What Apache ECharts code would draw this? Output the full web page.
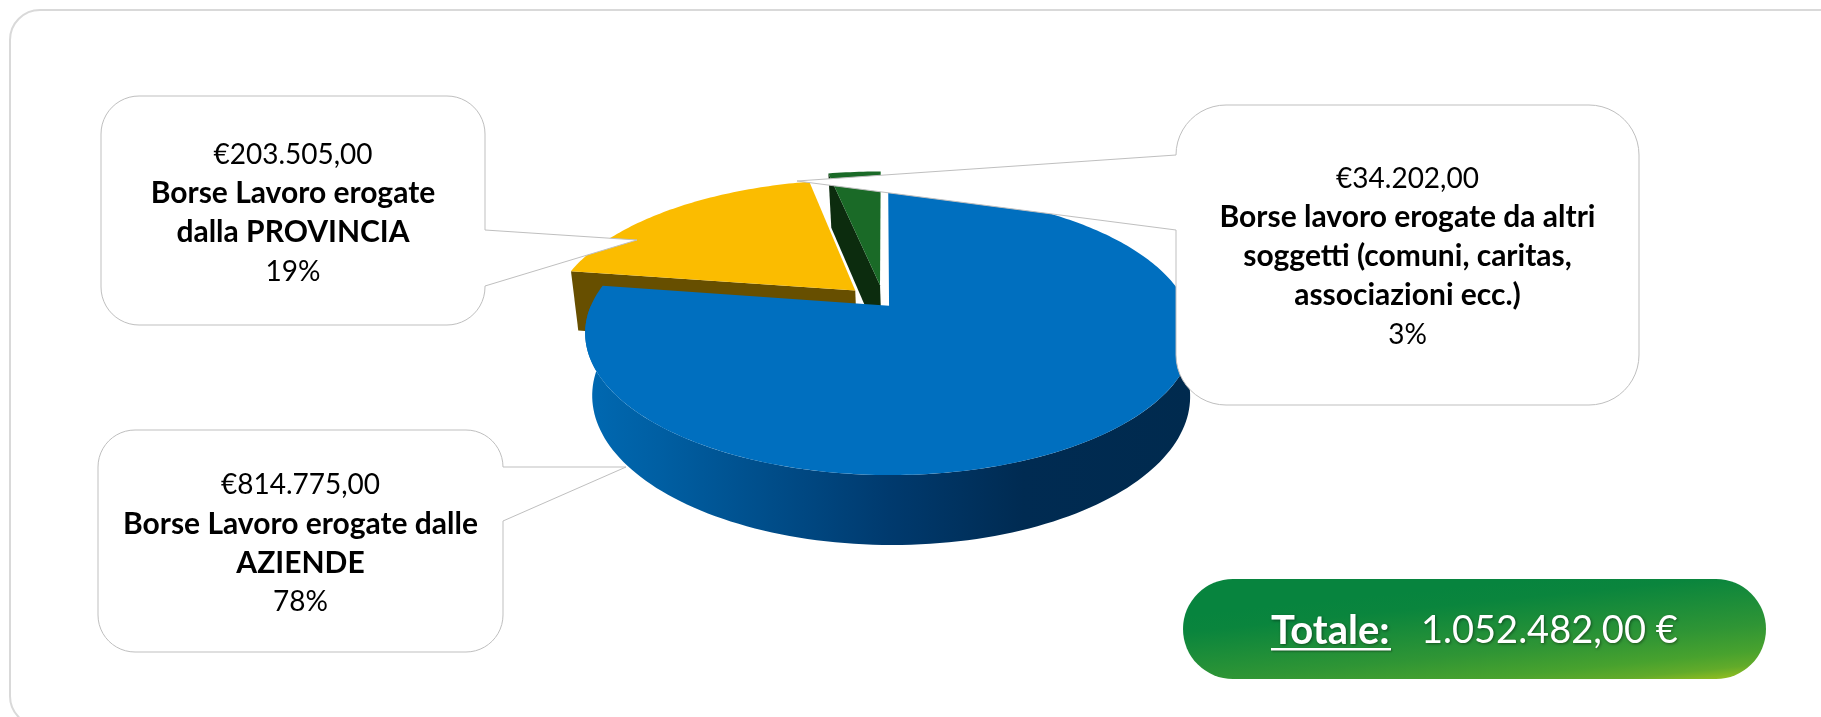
<!DOCTYPE html>
<html><head><meta charset="utf-8">
<style>html,body{margin:0;padding:0;background:#fff}#c{width:1821px;height:717px}</style>
<script src="https://cdn.jsdelivr.net/npm/echarts@6/dist/echarts.min.js"></script>
</head><body><div id="c"></div>
<script>
// ---- data ----
var categories = ['AZIENDE', 'PROVINCIA', 'ALTRI'];
var values = [814775, 203505, 34202];
var valueLabels = ['€814.775,00', '€203.505,00', '€34.202,00'];
var percentLabels = ['78%', '19%', '3%'];
var titleLines = [
  ['Borse Lavoro erogate dalle', 'AZIENDE'],
  ['Borse Lavoro erogate', 'dalla PROVINCIA'],
  ['Borse lavoro erogate da altri', 'soggetti (comuni, caritas,', 'associazioni ecc.)']
];
var totalTitle = 'Totale:';
var totalLabel = '1.052.482,00 €';

// ---- styling ----
var FONT = 'Lato';
var topColors = ['#006fbf', '#fbbc00', '#1a6a27'];
var wallColors = ['#00437f', '#674f00', '#0c2c0e'];
var explode = [0.026, 0.136, 0.135];
var sliceScale = [1, 1.018, 1.07];
var drawOrder = [3, 1, 2];
var view = {cx: 884, cy: 303, k: 0.196};
var topPlane = {dx: 0, dy: 0, A: 297, B: 135};
var botPlane = {dx: 2, dy: 61, A: 292, B: 142};

function proj(a, b, pl) {
  var w = 1 + view.k * b;
  return [view.cx + pl.dx + pl.A * a / w, view.cy + pl.dy - pl.B * b / w];
}
var total = values.reduce(function (s, v) { return s + v; }, 0);

function renderSlice(params, api) {
  var i = params.dataIndex;
  var before = 0;
  for (var j = 0; j < i; j++) before += values[j];
  var t0 = before / total * Math.PI * 2;
  var t1 = (before + api.value(0)) / total * Math.PI * 2;
  var mid = (t0 + t1) / 2;
  var ox = Math.sin(mid) * explode[i], oy = Math.cos(mid) * explode[i];
  var rad = sliceScale[i];
  function P(t, r, pl) { return proj(ox + rad * r * Math.sin(t), oy + rad * r * Math.cos(t), pl); }
  var children = [];
  var z = drawOrder[i];

  // radial walls facing the viewer
  function radial(t, normalSign) {
    var nx = normalSign * Math.cos(t), ny = -normalSign * Math.sin(t);
    var camB = -1 / view.k;
    var facing = nx * (0 - ox) + ny * (camB - oy);
    if (facing > 0.05) {
      children.push({type: 'polygon', z2: z, silent: true,
        shape: {points: [P(t, 0, topPlane), P(t, 1, topPlane), P(t, 1, botPlane), P(t, 0, botPlane)]},
        style: {fill: wallColors[i]}});
    }
  }
  radial(t0, -1);
  radial(t1, 1);

  // outer wall (front half only)
  var from = Math.max(t0, Math.PI / 2), to = Math.min(t1, Math.PI * 1.5);
  if (to > from) {
    var upper = [], lower = [];
    for (var d = 0; d <= 120; d++) {
      var t = from + (to - from) * d / 120;
      upper.push(P(t, 1, topPlane));
      lower.unshift(P(t, 1, botPlane));
    }
    children.push({type: 'polygon', z2: z, silent: true,
      shape: {points: upper.concat(lower)},
      style: {fill: new echarts.graphic.LinearGradient(0, 0, 1, 0, [
        {offset: 0, color: '#0069b2'},
        {offset: 0.12, color: '#005fa3'},
        {offset: 0.5, color: '#003a6e'},
        {offset: 0.72, color: '#002b52'},
        {offset: 1, color: '#002a4e'}
      ])}});
  }

  // top face
  var pts = [P(t0, 0, topPlane)];
  var n = Math.max(8, Math.round((t1 - t0) * 60));
  for (var e = 0; e <= n; e++) pts.push(P(t0 + (t1 - t0) * e / n, 1, topPlane));
  children.push({type: 'polygon', z2: z + 0.5, silent: true,
    shape: {points: pts}, style: {fill: topColors[i]}});
  return {type: 'group', children: children};
}

function corner(cx, cy, r, a0, out) {
  for (var s = 0; s <= 12; s++) {
    var a = a0 + s / 12 * Math.PI / 2;
    out.push([cx + r * Math.cos(a), cy + r * Math.sin(a)]);
  }
}
function calloutPoints(x, y, w, h, r, side, y1, y2, tip) {
  var R = x + w, B = y + h, p = [];
  corner(R - r, y + r, r, -Math.PI / 2, p);
  if (side === 'right') p.push([R, y1], tip, [R, y2]);
  corner(R - r, B - r, r, 0, p);
  corner(x + r, B - r, r, Math.PI / 2, p);
  if (side === 'left') p.push([x, y2], tip, [x, y1]);
  corner(x + r, y + r, r, Math.PI, p);
  return p;
}

var LINE = 39, SIZE = 28, BOLD_SIZE = 30;
function callout(i, box, firstY) {
  var els = [{type: 'polygon', z: 50, silent: true,
    shape: {points: calloutPoints(box.x, box.y, box.w, box.h, box.r, box.side, box.y1, box.y2, box.tip)},
    style: {fill: '#fff', stroke: '#bfbfbf', lineWidth: 1}}];
  var lines = [{t: valueLabels[i], b: false}]
    .concat(titleLines[i].map(function (t) { return {t: t, b: true}; }))
    .concat([{t: percentLabels[i], b: false}]);
  var cx = box.x + box.w / 2;
  lines.forEach(function (l, n) {
    els.push({type: 'text', z: 51, silent: true,
      style: {x: cx, y: firstY + n * LINE, text: l.t, fill: '#000', align: 'center', verticalAlign: 'middle',
        font: (l.b ? 'bold ' + BOLD_SIZE : SIZE) + 'px ' + FONT}});
  });
  return els;
}

var graphics = [
  {type: 'rect', z: 1, silent: true, shape: {x: 10, y: 10, width: 1840, height: 716, r: 30},
    style: {fill: 'none', stroke: '#d9d9d9', lineWidth: 2}}
];
graphics = graphics
  .concat(callout(1, {x: 101, y: 96, w: 384, h: 229, r: 38, side: 'right', y1: 230, y2: 286, tip: [637, 240]}, 154.5))
  .concat(callout(0, {x: 98, y: 430, w: 405, h: 222, r: 37, side: 'right', y1: 467, y2: 521, tip: [626, 467]}, 485))
  .concat(callout(2, {x: 1176, y: 105, w: 463, h: 300, r: 50, side: 'left', y1: 155, y2: 230, tip: [797, 181]}, 178.5));

// total pill
var textShadow = {textShadowColor: 'rgba(0,0,0,0.45)', textShadowBlur: 3, textShadowOffsetX: 1, textShadowOffsetY: 1};
graphics.push(
  {type: 'rect', z: 50, silent: true, shape: {x: 1183, y: 579, width: 583, height: 100, r: 50},
    style: {fill: new echarts.graphic.LinearGradient(1444, 588, 1456, 705, [
      {offset: 0, color: '#07843e'}, {offset: 0.15, color: '#0a853d'},
      {offset: 0.58, color: '#2f9535'}, {offset: 0.8, color: '#48a22e'}, {offset: 0.92, color: '#62ab2a'}, {offset: 1, color: '#8bbb22'}
    ], true)}},
  {type: 'text', z: 51, silent: true,
    style: Object.assign({x: 1271, y: 631, text: totalTitle, fill: '#fff', align: 'left', verticalAlign: 'middle',
      font: 'bold 40px ' + FONT}, textShadow)},
  {type: 'rect', z: 51, silent: true, shape: {x: 1271, y: 648, width: 120, height: 2.5},
    style: {fill: '#fff', shadowColor: 'rgba(0,0,0,0.4)', shadowBlur: 2, shadowOffsetX: 1, shadowOffsetY: 1}},
  {type: 'text', z: 51, silent: true,
    style: Object.assign({x: 1421, y: 631, text: totalLabel, fill: '#fff', align: 'left', verticalAlign: 'middle',
      font: '38px ' + FONT}, textShadow)}
);

var chart = echarts.init(document.getElementById('c'), null, {renderer: 'canvas'});
chart.setOption({
  animation: false,
  backgroundColor: '#fff',
  series: [{
    type: 'custom',
    coordinateSystem: 'none',
    renderItem: renderSlice,
    silent: true,
    data: values.map(function (v, i) { return {name: categories[i], value: [v]}; })
  }],
  graphic: {elements: graphics}
});
</script></body></html>
